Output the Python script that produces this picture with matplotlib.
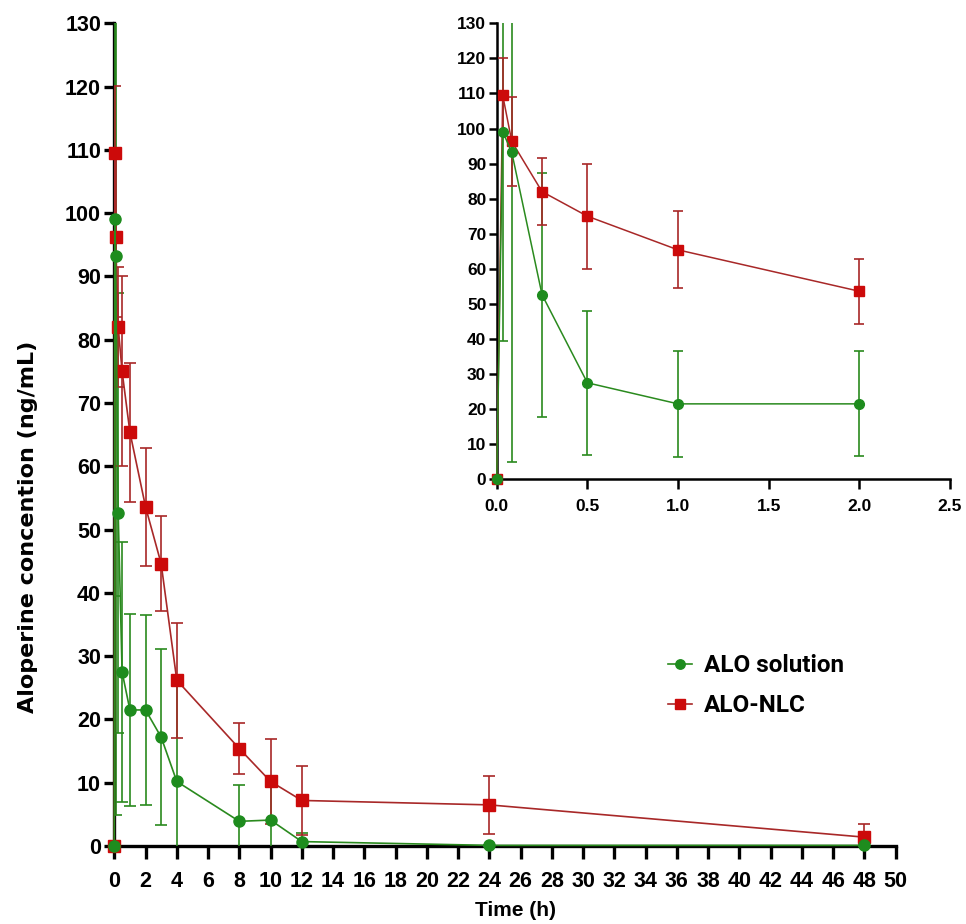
import matplotlib.pyplot as plt

# 时间点 (h)
time = [0, 0.033, 0.083, 0.25, 0.5, 1, 2, 3, 4, 8, 10, 12, 24, 48]

# ALO solution 平均浓度及标准差
sol_mean = [0, 99.1, 93.2, 52.6, 27.5, 21.5, 21.5, 17.2, 10.2, 3.9, 4.1, 0.7, 0.1, 0.1]
sol_sd = [0, 59.6, 88.3, 34.8, 20.5, 15.1, 15.0, 13.9, 15.5, 5.8, 5.4, 1.3, 0.1, 0.1]

# ALO-NLC 平均浓度及标准差
nlc_mean = [0, 109.5, 96.3, 82.0, 75.0, 65.4, 53.6, 44.6, 26.2, 15.4, 10.2, 7.2, 6.5, 1.4]
nlc_sd = [0, 10.6, 12.7, 9.5, 15.0, 11.0, 9.3, 7.5, 9.1, 4.0, 6.7, 5.4, 4.6, 2.1]

labels = ['ALO solution', 'ALO-NLC']

green_line = '#2a8a1e'
green_mark = '#1e8c1e'
red_line = '#a82828'
red_mark = '#cc0a0a'

plt.rcParams['font.family'] = ['Liberation Sans', 'DejaVu Sans']
plt.rcParams['font.weight'] = 'bold'

fig = plt.figure(figsize=(9.66, 9.24), dpi=100)


def draw(ax, t, m1, s1, m2, s2, lw, ms, cap):
    """画两条曲线和误差棒"""
    ax.errorbar(t, m1, yerr=s1, fmt='none', ecolor=green_line, elinewidth=1.2,
                capsize=cap, capthick=1.2, zorder=4)
    ax.errorbar(t, m2, yerr=s2, fmt='none', ecolor=red_line, elinewidth=1.2,
                capsize=cap, capthick=1.2, zorder=4)
    l1, = ax.plot(t, m1, '-o', color=green_line, mfc=green_mark, mec=green_mark,
                  lw=lw, ms=ms, clip_on=False, zorder=6)
    l2, = ax.plot(t, m2, '-s', color=red_line, mfc=red_mark, mec=red_mark,
                  lw=lw, ms=ms, clip_on=False, zorder=5)
    return l1, l2


def style(ax, width, xlen, ylen, fsize, xpad):
    for side in ['top', 'right']:
        ax.spines[side].set_visible(False)
    for side in ['left', 'bottom']:
        ax.spines[side].set_linewidth(width)
        ax.spines[side].set_zorder(3)
    ax.tick_params(direction='out', width=width, labelsize=fsize)
    ax.tick_params(axis='x', length=xlen, pad=xpad)
    ax.tick_params(axis='y', length=ylen, pad=2)
    for lab in ax.get_xticklabels() + ax.get_yticklabels():
        lab.set_fontweight('bold')


# 主图
ax = fig.add_axes([0.1183, 0.0844, 0.8089, 0.8904])
h1, h2 = draw(ax, time, sol_mean, sol_sd, nlc_mean, nlc_sd, 1.2, 8, 4.5)
ax.set_xlim(0, 50)
ax.set_ylim(0, 130)
ax.set_xticks(range(0, 51, 2))
ax.set_yticks(range(0, 131, 10))
style(ax, 2.4, 9, 7.5, 15.5, 9)
ax.set_xlabel('Time (h)', fontsize=15, fontweight='bold')
ax.xaxis.set_label_coords(0.514, -0.067)
ax.set_ylabel('Aloperine concention (ng/mL)', fontsize=16, fontweight='bold',
              family='DejaVu Sans')
ax.yaxis.set_label_coords(-0.098, 0.388)

# 图例
leg = fig.legend([h1, h2], labels, loc='upper left', bbox_to_anchor=(0.6912, 0.2922),
                 frameon=False, borderpad=0, borderaxespad=0, handlelength=1.0,
                 handletextpad=0.5, labelspacing=0.7, markerscale=0.85,
                 prop={'family': 'Roboto', 'weight': 'bold', 'size': 17.5})

# 局部放大图 (0-2 h)
n = 7
ins = fig.add_axes([0.5142, 0.4813, 0.4693, 0.4935])
ins.patch.set_alpha(0)
draw(ins, time[:n], sol_mean[:n], sol_sd[:n], nlc_mean[:n], nlc_sd[:n], 1.1, 7, 3.5)
ins.set_xlim(0, 2.5)
ins.set_ylim(0, 130)
ins.set_xticks([0, 0.5, 1.0, 1.5, 2.0, 2.5])
ins.set_xticklabels(['0.0', '0.5', '1.0', '1.5', '2.0', '2.5'])
ins.set_yticks(range(0, 131, 10))
style(ins, 1.8, 7, 5.5, 12.5, 7)

plt.savefig('out.png', dpi=100)
